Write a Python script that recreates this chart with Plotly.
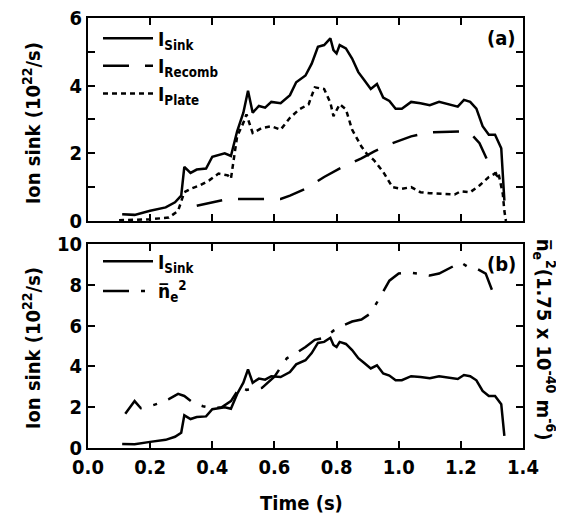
import plotly.graph_objects as go

# I_Sink (both panels)
t_sink = [0.11, 0.15, 0.20, 0.25, 0.28, 0.30, 0.31, 0.33, 0.35, 0.38, 0.40, 0.42, 0.44, 0.46,
          0.48, 0.50, 0.515, 0.53, 0.55, 0.57, 0.59, 0.62, 0.65, 0.67, 0.70, 0.72, 0.74, 0.76,
          0.78, 0.79, 0.80, 0.81, 0.83, 0.85, 0.87, 0.89, 0.91, 0.93, 0.95, 0.97, 0.99, 1.01,
          1.04, 1.07, 1.10, 1.13, 1.16, 1.19, 1.21, 1.23, 1.25, 1.27, 1.29, 1.31, 1.33, 1.335, 1.34]
i_sink = [0.2, 0.18, 0.3, 0.4, 0.55, 0.75, 1.6, 1.42, 1.52, 1.55, 1.9, 1.95, 2.0, 1.92,
          2.65, 3.2, 3.85, 3.2, 3.4, 3.35, 3.52, 3.48, 3.72, 4.1, 4.3, 4.65, 5.15, 5.2,
          5.4, 5.05, 4.95, 5.2, 5.1, 4.8, 4.4, 4.15, 3.9, 4.05, 3.65, 3.55, 3.32, 3.32,
          3.52, 3.48, 3.42, 3.52, 3.45, 3.38, 3.58, 3.52, 3.32, 2.8, 2.55, 2.55, 2.15, 1.4, 0.6]

# I_Recomb
t_rec = [0.35, 0.42, 0.45, 0.62, 0.65, 0.70, 0.76, 0.82, 0.88, 0.92, 0.98, 1.04, 1.10, 1.20,
         1.23, 1.26, 1.30, 1.32]
i_rec = [0.45, 0.6, 0.65, 0.65, 0.75, 0.95, 1.3, 1.6, 1.85, 2.05, 2.3, 2.5, 2.62, 2.65,
         2.6, 2.3, 1.5, 1.3]

# I_Plate
t_plate = [0.10, 0.20, 0.26, 0.29, 0.31, 0.33, 0.36, 0.39, 0.42, 0.45, 0.46, 0.48, 0.50, 0.51,
           0.53, 0.56, 0.59, 0.62, 0.65, 0.68, 0.71, 0.73, 0.76, 0.78, 0.79, 0.81, 0.83, 0.85,
           0.88, 0.90, 0.92, 0.95, 0.98, 1.01, 1.04, 1.07, 1.10, 1.15, 1.18, 1.20, 1.23, 1.26,
           1.29, 1.32, 1.335, 1.34, 1.345]
i_plate = [0.02, 0.05, 0.1, 0.3, 0.85, 0.95, 1.05, 1.2, 1.4, 1.35, 1.25, 2.5, 2.9, 3.15,
           2.6, 2.75, 2.8, 2.7, 3.05, 3.3, 3.45, 3.95, 3.9, 3.5, 3.1, 3.45, 3.3, 2.7,
           2.2, 1.95, 1.8, 1.45, 1.0, 0.95, 1.0, 0.85, 0.82, 0.8, 0.78, 0.88, 0.85, 1.05,
           1.3, 1.45, 0.8, 0.3, 0.0]

# line-averaged density squared
t_ne = [0.12, 0.15, 0.17, 0.20, 0.23, 0.26, 0.29, 0.31, 0.34, 0.37, 0.40, 0.43, 0.46, 0.49,
        0.51, 0.54, 0.56, 0.60, 0.64, 0.67, 0.70, 0.73, 0.76, 0.79, 0.82, 0.85, 0.88, 0.91,
        0.94, 0.97, 1.00, 1.03, 1.06, 1.10, 1.13, 1.16, 1.20, 1.22, 1.25, 1.28, 1.30, 1.31]
ne2 = [1.68, 2.3, 1.95, 2.05, 2.2, 2.4, 2.65, 2.55, 2.2, 2.05, 1.95, 2.0, 2.3, 3.0,
       2.85, 2.9, 2.95, 3.5, 4.4, 4.65, 4.95, 5.3, 5.4, 5.75, 6.0, 6.2, 6.3, 6.6,
       7.4, 8.2, 8.55, 8.6, 8.55, 8.45, 8.55, 8.8, 9.1, 8.9, 8.8, 8.55, 7.75, 7.9]

FONT = "Liberation Sans Narrow, DejaVu Sans Condensed, Arial"
LW = 2.5

fig = go.Figure()

fig.add_trace(go.Scatter(x=t_sink, y=i_sink, mode="lines", name="I<sub>Sink</sub>",
                         line=dict(color="black", width=LW), legend="legend", legendgroup="a1"))
fig.add_trace(go.Scatter(x=t_rec, y=i_rec, mode="lines", name="I<sub>Recomb</sub>",
                         line=dict(color="black", width=LW, dash="26px,16px"),
                         legend="legend", legendgroup="a2"))
fig.add_trace(go.Scatter(x=t_plate, y=i_plate, mode="lines", name="I<sub>Plate</sub>",
                         line=dict(color="black", width=LW, dash="5px,4px"),
                         legend="legend", legendgroup="a3"))

fig.add_trace(go.Scatter(x=t_sink, y=i_sink, mode="lines", name="I<sub>Sink</sub>",
                         xaxis="x2", yaxis="y2",
                         line=dict(color="black", width=LW), legend="legend2", legendgroup="b1"))
fig.add_trace(go.Scatter(x=t_ne, y=ne2, mode="lines", name="n\u0305<sub>e</sub><sup>2</sup>",
                         xaxis="x2", yaxis="y2",
                         line=dict(color="black", width=LW, dash="26px,12px,4px,12px"),
                         legend="legend2", legendgroup="b2"))

minor = dict(ticks="inside", ticklen=7, tickwidth=2, tickcolor="black")
axis_common = dict(showline=True, linecolor="black", linewidth=2, mirror="ticks",
                   ticks="inside", ticklen=7, tickwidth=2, tickcolor="black",
                   showgrid=False, zeroline=False, automargin=False,
                   ticklabeloverflow="allow",
                   tickfont=dict(family=FONT, size=20, color="black", weight="bold"))

legend_font = dict(family=FONT, size=19, color="black", weight="bold")

# page has an 8px body margin, so the figure is 8px smaller than the window
fig.update_layout(
    width=556, height=508,
    margin=dict(l=80, r=41, t=10, b=68),
    paper_bgcolor="white", plot_bgcolor="white",
    font=dict(family=FONT, color="black"),
    xaxis=dict(domain=[0, 1], range=[0, 1.4], dtick=0.2, showticklabels=False,
               anchor="y", **axis_common),
    yaxis=dict(domain=[0.528, 1], range=[0, 6], dtick=2, minor=dict(dtick=1, **minor),
               anchor="x", **axis_common),
    xaxis2=dict(domain=[0, 1], range=[0, 1.4], dtick=0.2, tickformat=".1f",
                anchor="y2", **axis_common),
    yaxis2=dict(domain=[0, 0.4745], range=[0, 10], dtick=2,
                anchor="x2", **axis_common),
    legend=dict(x=0.023, y=0.997, xanchor="left", yanchor="top", bgcolor="rgba(0,0,0,0)",
                traceorder="grouped", tracegroupgap=0, itemwidth=50, font=legend_font),
    legend2=dict(x=0.023, y=0.478, xanchor="left", yanchor="top", bgcolor="rgba(0,0,0,0)",
                 traceorder="grouped", tracegroupgap=2, itemwidth=50, font=legend_font),
    showlegend=True,
)

title_font = dict(family=FONT, size=20, color="black")
fig.add_annotation(text="<b>Ion sink (10<sup>22</sup>/s)</b>", xref="paper", yref="paper",
                   x=0, xshift=-56, y=0.755, textangle=-90, showarrow=False,
                   xanchor="center", yanchor="middle", font=title_font)
fig.add_annotation(text="<b>Ion sink (10<sup>22</sup>/s)</b>", xref="paper", yref="paper",
                   x=0, xshift=-56, y=0.232, textangle=-90, showarrow=False,
                   xanchor="center", yanchor="middle", font=title_font)
fig.add_annotation(text="<b>Time (s)</b>", xref="paper", yref="paper",
                   x=0.49, y=-0.127, showarrow=False,
                   xanchor="center", yanchor="middle", font=title_font)
fig.add_annotation(text="<b>(a)</b>", xref="paper", yref="paper", x=0.988, y=0.985,
                   xanchor="right", yanchor="top", showarrow=False, font=title_font)
fig.add_annotation(text="<b>(b)</b>", xref="paper", yref="paper", x=0.988, y=0.46,
                   xanchor="right", yanchor="top", showarrow=False, font=title_font)
fig.add_annotation(text="<b>n\u0305<sub>e</sub><sup>2</sup>(1.75 x 10<sup>-40</sup> m<sup>-6</sup>)</b>",
                   xref="paper", yref="paper", x=1.0, y=0.252, xshift=21,
                   xanchor="center", yanchor="middle", textangle=90, showarrow=False,
                   font=title_font)

fig.write_html("out.html")
